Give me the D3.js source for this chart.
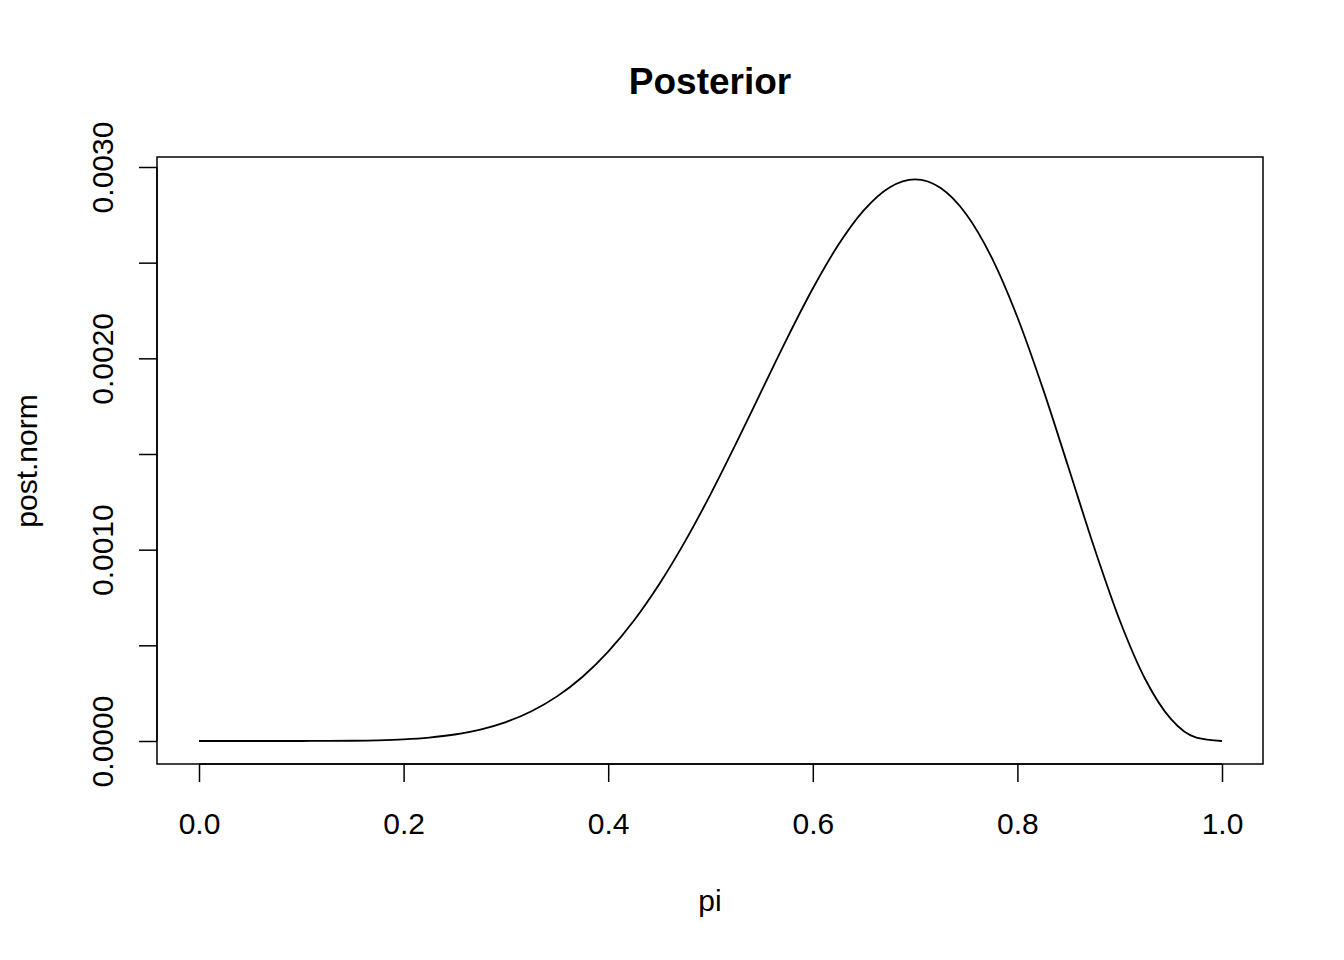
<!DOCTYPE html>
<html>
<head>
<meta charset="utf-8">
<script src="https://cdn.jsdelivr.net/npm/d3@7"></script>
<style>
  html, body { margin: 0; padding: 0; background: #fff; }
  text { font-family: "Liberation Sans", Arial, Helvetica, sans-serif; fill: #000; }
</style>
</head>
<body>
<svg id="chart" width="1344" height="960"></svg>
<script>
const piValues = [0,0.025,0.05,0.075,0.1,0.125,0.15,0.175,0.2,0.225,0.25,0.275,0.3,0.325,0.35,0.375,0.4,0.425,0.45,0.475,0.5,0.525,0.55,0.575,0.6,0.625,0.65,0.675,0.7,0.725,0.75,0.775,0.8,0.825,0.85,0.875,0.9,0.925,0.95,0.975,1.0];
const postNorm = [0,0,0,0.0000000137,0.000000096,0.000000422,0.000001385,0.000003725,0.00000865,0.00001794,0.00003399,0.00005983,0.00009902,0.00015548,0.00023323,0.00033606,0.00046713,0.00062849,0.00082065,0.0010421,0.00128906,0.0015551,0.0018312,0.0021058,0.0023649,0.0025932,0.0027744,0.002893,0.0029351,0.0028903,0.002753,0.0025249,0.0022146,0.0018402,0.0014282,0.0010124,0.00063135,0.00032266,0.00011523,0.000017275,0];
const xTicks = [0, 0.2, 0.4, 0.6, 0.8, 1.0];
const yTicks = [0, 0.0005, 0.001, 0.0015, 0.002, 0.0025, 0.003];
const yLabelTicks = [0, 0.001, 0.002, 0.003];
const title = "Posterior";
const xLabel = "pi";
const yLabel = "post.norm";

const svg = d3.select("#chart");
const box = {left: 157, right: 1263, top: 157, bottom: 764};
const x = d3.scaleLinear().domain([0, 1]).range([199, 1222]);
const y = d3.scaleLinear().domain([0, 0.003]).range([741, 167]);
const FONT = '"Liberation Sans", Arial, sans-serif';

// box
svg.append("rect")
  .attr("x", box.left).attr("y", box.top)
  .attr("width", box.right - box.left).attr("height", box.bottom - box.top)
  .attr("fill", "none").attr("stroke", "#000").attr("stroke-width", 1.5);

// x axis
const xAxis = d3.axisBottom(x).tickValues(xTicks).tickSize(18).tickPadding(31)
  .tickFormat(d3.format(".1f"));
const gx = svg.append("g").attr("transform", `translate(0,${box.bottom})`).call(xAxis);
gx.select(".domain").attr("d", `M${x(0)},0H${x(1)}`).attr("stroke-width", 1.5);
gx.selectAll(".tick line").attr("stroke-width", 1.5);
gx.selectAll(".tick text").style("font-size", "30px").style("font-family", FONT);

// y axis
const yAxis = d3.axisLeft(y).tickValues(yTicks).tickSize(18)
  .tickFormat(d => yLabelTicks.some(t => Math.abs(t - d) < 1e-9) ? d3.format(".4f")(d) : "");
const gy = svg.append("g").attr("transform", `translate(${box.left},0)`).call(yAxis);
gy.select(".domain").attr("d", `M0,${y(0)}V${y(0.003)}`).attr("stroke-width", 1.5);
gy.selectAll(".tick line").attr("stroke-width", 1.5);
gy.selectAll(".tick text")
  .style("font-size", "30px")
  .style("font-family", FONT)
  .attr("x", null).attr("dy", null)
  .attr("text-anchor", "middle")
  .attr("transform", "translate(-44,0) rotate(-90)");

// line
const line = d3.line().x((d, i) => x(piValues[i])).y(d => y(d)).curve(d3.curveMonotoneX);
svg.append("path").datum(postNorm)
  .attr("d", line).attr("fill", "none").attr("stroke", "#000").attr("stroke-width", 1.8);

// titles
svg.append("text").attr("x", 710).attr("y", 94).attr("text-anchor", "middle")
  .style("font-size", "37px").style("font-weight", "bold").text(title);
svg.append("text").attr("x", 710).attr("y", 911).attr("text-anchor", "middle")
  .style("font-size", "30px").text(xLabel);
svg.append("text").attr("transform", "translate(37,461) rotate(-90)")
  .attr("text-anchor", "middle").style("font-size", "30px").text(yLabel);
</script>
</body>
</html>
